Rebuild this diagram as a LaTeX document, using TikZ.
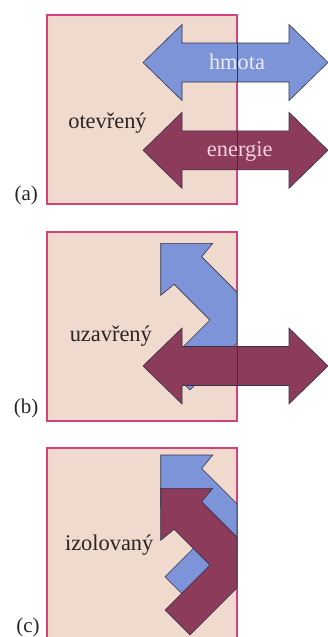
\documentclass[tikz,border=0pt]{standalone}
\usepackage{fontspec}
\setmainfont{Liberation Serif}
\usetikzlibrary{positioning}
\definecolor{sysfill}{HTML}{EFDACD}
\definecolor{sysline}{HTML}{D4417C}
\definecolor{massfill}{HTML}{7D95D8}
\definecolor{energyfill}{HTML}{8D3B5B}
\definecolor{edgeline}{HTML}{33334A}
\definecolor{masstext}{HTML}{ECEAFB}
\definecolor{energytext}{HTML}{F4D2E2}
\definecolor{labtext}{HTML}{2B2424}
\tikzset{
  sysbox/.style    = {fill=sysfill, draw=sysline, line width=1.3pt},
  massarr/.style   = {fill=massfill, draw=edgeline, line width=0.6pt},
  energyarr/.style = {fill=energyfill, draw=edgeline, line width=0.6pt},
  wall/.style      = {draw=edgeline, line width=0.6pt},
  syslab/.style    = {font=\fontsize{22.4}{26}\selectfont, text=labtext,
                      anchor=base, inner sep=0pt},
  panellab/.style  = {syslab, font=\fontsize{21}{25}\selectfont},
  arrlab/.style    = {syslab},
  % ---- arrow shapes, in px of the page (y runs down) ----
  dblarrow/.pic    = {\path[pic actions] (-92.5,0) -- (-53.5,-38) -- (-53.5,-19.5)
                      -- (53.5,-19.5) -- (53.5,-38) -- (92.5,0) -- (53.5,38)
                      -- (53.5,19.5) -- (-53.5,19.5) -- (-53.5,38) -- cycle;},
  bouncearrow/.pic = {\path[pic actions] (0,0) -- (52,0) -- (41,13.5) -- (76.3,48.8)
                      -- (76.3,99.7) -- (29.3,146.7) -- (4.3,121.7) -- (49.25,76.75)
                      -- (13.5,41) -- (0,52) -- cycle;},
}
\begin{document}
\begin{tikzpicture}[x=1pt, y=-1pt]
  \useasboundingbox (0,0) rectangle (328,637);
  % (a) open system
  \draw[sysbox] (47,15) rectangle (237,204);
  \pic[massarr] at (235.5,62.5) {dblarrow};
  \pic[energyarr] at (235.5,150.3) {dblarrow};
  \draw[wall] (237,43) -- (237,82);
  \draw[wall] (237,130.8) -- (237,169.8);
  \node[syslab] (open) at (107.5,128) {otevřený};
  \node[arrlab, text=masstext] (mass) at (237,69.3) {hmota};
  \node[arrlab, text=energytext] (energy) at (239.7,156.7) {energie};
  \node[panellab] (pa) at (26.3,200) {(a)};
  % (b) closed system
  \draw[sysbox] (47,232) rectangle (237,421);
  \pic[massarr] at (160.7,243.3) {bouncearrow};
  \pic[energyarr] at (235.5,366) {dblarrow};
  \draw[wall] (237,346.5) -- (237,385.5);
  \node[syslab] (closed) at (110.8,341.7) {uzavřený};
  \node[panellab] (pb) at (26,413) {(b)};
  % (c) isolated system
  \draw[sysbox] (47,448) rectangle (237,640);
  \pic[massarr] at (160.7,455) {bouncearrow};
  \pic[energyarr] at (160.7,488.3) {bouncearrow};
  \node[syslab] (isolated) at (109.2,550) {izolovaný};
  \node[panellab] (pc) at (28,632) {(c)};
\end{tikzpicture}
\end{document}
